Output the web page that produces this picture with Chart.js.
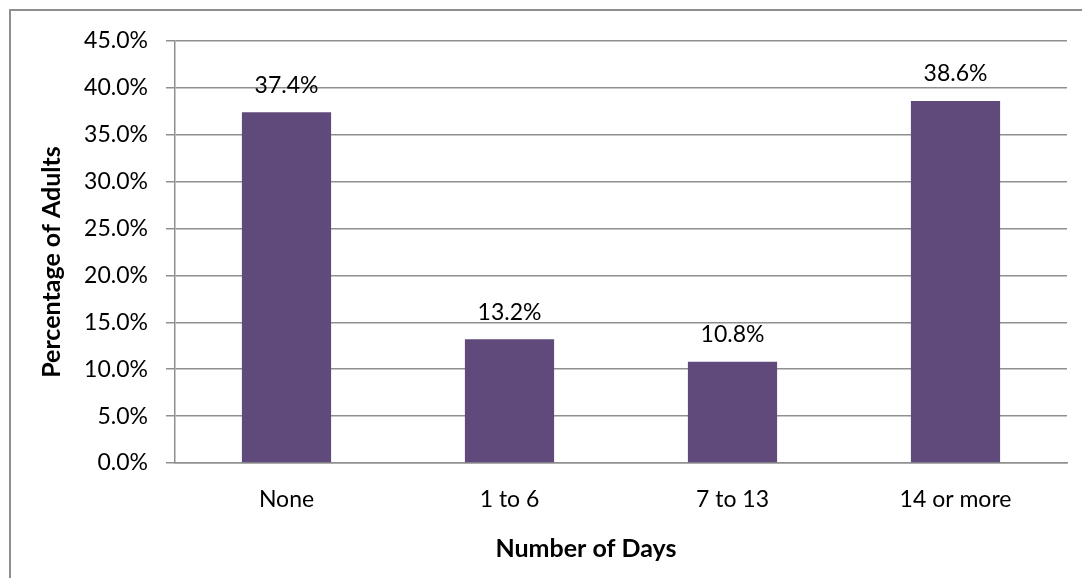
<!DOCTYPE html>
<html lang="en">
<head>
    <meta charset="UTF-8">
    <title>Percentage of Adults by Number of Days</title>
    <script src="https://cdn.jsdelivr.net/npm/chart.js"></script>
    <style>
        body {
            margin: 0;
            padding: 0;
            background: #ffffff;
            overflow: hidden;
        }
        canvas {
            display: block;
        }
    </style>
</head>
<body>

<canvas id="daysChart" width="1082" height="578"></canvas>

<script>
    // Data
    const categories = ['None', '1 to 6', '7 to 13', '14 or more'];
    const percentages = [37.4, 13.2, 10.8, 38.6];
    const yTicks = [0, 5, 10, 15, 20, 25, 30, 35, 40, 45];

    const xTitle = 'Number of Days';
    const yTitle = 'Percentage of Adults';

    const FONT = 'Lato, "Open Sans", sans-serif';
    const GRID = '#8f8f8f';

    // frame, axis titles and value labels over the bars
    const decorPlugin = {
        id: 'decor',
        beforeDraw(chart) {
            const ctx = chart.ctx;
            ctx.save();
            ctx.strokeStyle = GRID;
            ctx.lineWidth = 2;
            ctx.strokeRect(10, 10, chart.width + 40, chart.height + 40);
            ctx.restore();
        },
        afterDatasetsDraw(chart) {
            const ctx = chart.ctx;
            const meta = chart.getDatasetMeta(0);
            ctx.save();
            ctx.fillStyle = '#000000';
            ctx.font = '23px ' + FONT;
            ctx.textAlign = 'center';
            ctx.textBaseline = 'middle';
            meta.data.forEach((bar, i) => {
                ctx.fillText(percentages[i].toFixed(1) + '%', bar.x, bar.y - 27);
            });

            ctx.font = 'bold 25px ' + FONT;
            ctx.fillText(xTitle, 586, 549);

            ctx.translate(52, 262);
            ctx.rotate(-Math.PI / 2);
            ctx.fillText(yTitle, 0, 0);
            ctx.restore();
        }
    };

    const ctx = document.getElementById('daysChart').getContext('2d');
    new Chart(ctx, {
        type: 'bar',
        data: {
            labels: categories,
            datasets: [{
                label: yTitle,
                data: percentages,
                backgroundColor: '#604a7b',
                borderWidth: 0,
                categoryPercentage: 0.4,
                barPercentage: 1.0
            }]
        },
        options: {
            responsive: false,
            animation: false,
            layout: {
                padding: { left: 0, top: 41, right: 15, bottom: 0 }
            },
            plugins: {
                legend: { display: false },
                tooltip: { enabled: false }
            },
            scales: {
                x: {
                    afterFit(scale) { scale.height = 115; },
                    grid: { display: false },
                    border: { display: true, color: GRID, width: 1.5 },
                    ticks: {
                        color: '#000000',
                        font: { family: FONT, size: 23 },
                        padding: 15
                    }
                },
                y: {
                    min: yTicks[0],
                    max: yTicks[yTicks.length - 1],
                    afterFit(scale) { scale.width = 175; },
                    afterBuildTicks(scale) {
                        scale.ticks = yTicks.map(v => ({ value: v }));
                    },
                    grid: {
                        color: GRID,
                        lineWidth: 1.5,
                        tickLength: 9
                    },
                    border: { display: true, color: GRID, width: 1.5 },
                    ticks: {
                        color: '#000000',
                        font: { family: FONT, size: 23 },
                        padding: 18,
                        callback: value => value.toFixed(1) + '%'
                    }
                }
            }
        },
        plugins: [decorPlugin]
    });
</script>
</body>
</html>
